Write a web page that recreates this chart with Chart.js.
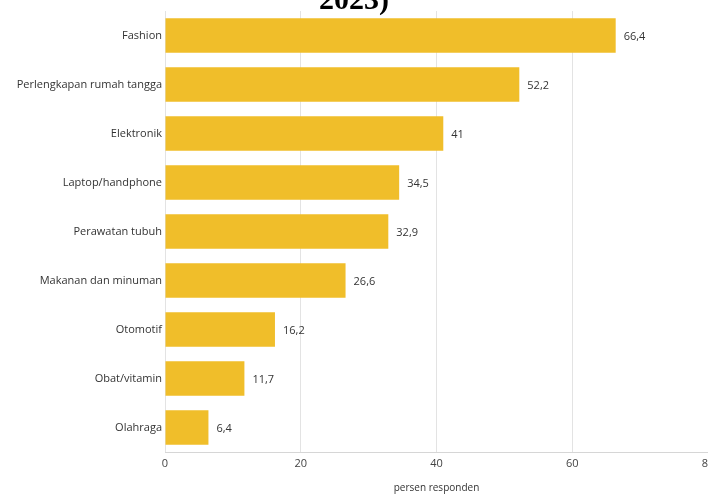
<!DOCTYPE html>
<html>
<head>
<meta charset="utf-8">
<script src="https://cdn.jsdelivr.net/npm/chart.js@4.4.1/dist/chart.umd.min.js"></script>
<style>
  html, body { margin: 0; padding: 0; background: #fff; overflow: hidden; }
  #wrap { position: relative; width: 708px; height: 494px; overflow: hidden; }
  #head {
    position: absolute; left: 0; width: 708px; top: -16px;
    text-align: center; font: bold 30px "Liberation Serif", "Times New Roman", serif;
    color: #000; line-height: 30px; z-index: 2;
  }
  #box { position: absolute; left: 0; top: 0; width: 760px; height: 494px; }
</style>
</head>
<body>
<div id="wrap">
  <div id="head">2023)</div>
  <div id="box"><canvas id="chartBelanja"></canvas></div>
</div>
<script>
const categories = ['Fashion', 'Perlengkapan rumah tangga', 'Elektronik', 'Laptop/handphone',
  'Perawatan tubuh', 'Makanan dan minuman', 'Otomotif', 'Obat/vitamin', 'Olahraga'];
const persenResponden = [66.4, 52.2, 41, 34.5, 32.9, 26.6, 16.2, 11.7, 6.4];
const xTicks = [0, 20, 40, 60, 80];

const fontFamily = '"Open Sans", "Noto Sans", sans-serif';

// value text to the right of each bar, decimal comma
const valueLabels = {
  id: 'valueLabels',
  afterDatasetsDraw(chart) {
    const ctx = chart.ctx;
    const meta = chart.getDatasetMeta(0);
    ctx.save();
    ctx.font = '11px ' + fontFamily;
    ctx.fillStyle = '#333';
    ctx.textAlign = 'left';
    ctx.textBaseline = 'middle';
    meta.data.forEach((bar, i) => {
      const txt = String(persenResponden[i]).replace('.', ',');
      ctx.fillText(txt, bar.x + 8, bar.y + 1);
    });
    ctx.restore();
  }
};

new Chart(document.getElementById('chartBelanja'), {
  type: 'bar',
  data: {
    labels: categories,
    datasets: [{
      label: 'persen responden',
      data: persenResponden,
      backgroundColor: '#F0BE2A',
      borderWidth: 0,
      categoryPercentage: 1,
      barPercentage: 0.7
    }]
  },
  options: {
    indexAxis: 'y',
    responsive: true,
    maintainAspectRatio: false,
    animation: false,
    layout: { padding: { top: 11, right: 52, left: 0, bottom: 0 } },
    plugins: {
      legend: { display: false },
      tooltip: { enabled: false }
    },
    scales: {
      x: {
        min: 0,
        max: 80,
        afterBuildTicks: (scale) => { scale.ticks = xTicks.map(v => ({ value: v })); },
        afterFit: (scale) => { scale.height = 42; },
        grid: { color: '#e3e3e3', lineWidth: 1, drawTicks: false },
        border: { color: '#d6d6d6' },
        ticks: { padding: 5, color: '#444', font: { family: fontFamily, size: 11 } },
        title: {
          display: true,
          text: 'persen responden',
          color: '#333',
          font: { family: fontFamily, size: 10 },
          padding: { top: 10, bottom: 0 }
        }
      },
      y: {
        afterFit: (scale) => { scale.width = 165; },
        grid: { display: false, drawTicks: false },
        border: { display: false },
        ticks: { padding: 3, color: '#333', font: { family: fontFamily, size: 11 } }
      }
    }
  },
  plugins: [valueLabels]
});
</script>
</body>
</html>
